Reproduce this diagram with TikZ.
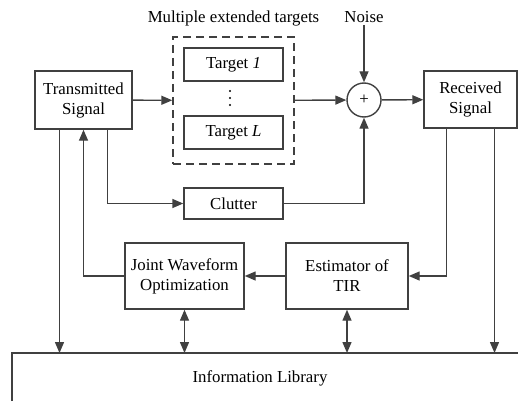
\documentclass[tikz,border=0pt]{standalone}
\usepackage{fontspec}
\setmainfont{Liberation Serif}
\usetikzlibrary{arrows.meta}
\definecolor{linegray}{HTML}{404040}
\tikzset{
  block/.style={draw=linegray, line width=1.4pt, align=center, inner sep=1pt},
  conn/.style={draw=linegray, line width=1.4pt, -{Triangle[length=11pt,width=9pt]}},
  dconn/.style={draw=linegray, line width=1.4pt, {Triangle[length=11pt,width=9pt]}-{Triangle[length=11pt,width=9pt]}},
  plain/.style={draw=linegray, line width=1.4pt},
}
\begin{document}
\begin{tikzpicture}[x=1pt,y=-1pt,font=\fontsize{16.8}{20}\selectfont]
  \useasboundingbox (0,0) rectangle (518,401);
  \node[block, minimum width=97, minimum height=58] (tx) at (83.5,100) {Transmitted\\Signal};
  \node[block, dashed, dash pattern=on 8pt off 5pt, minimum width=121, minimum height=127] (targets) at (233.5,100.5) {};
  \node[block, minimum width=99, minimum height=33] (t1) at (233.5,64.5) {Target \textit{1}};
  \node[block, minimum width=99, minimum height=33] (tL) at (233.5,132.5) {Target \textit{L}};
  \foreach \y in {91,98,105}
    \fill[black] (230,\y) circle (1.1);
  \node (multi) at (233.5,18) {Multiple extended targets};
  \node[inner sep=2pt] (noise) at (364,17) {Noise};
  \node[circle, draw=linegray, line width=1.4pt, minimum size=34, inner sep=0pt] (sum) at (364,100) {+};
  \node[block, minimum width=93, minimum height=57] (rx) at (470.5,99.5) {Received\\Signal};
  \node[block, minimum width=99, minimum height=31] (clutter) at (233.5,203.5) {Clutter};
  \node[block, minimum width=119, minimum height=66] (jwo) at (184.5,276) {Joint Waveform\\Optimization};
  \node[block, minimum width=122, minimum height=66] (est) at (347,276) {Estimator of\\TIR};
  \coordinate (libl) at (12,353);
  \coordinate (libr) at (518,353);
  \coordinate (libb) at (12,401);
  \node (lib) at (260,378) {Information Library};
  \begin{scope}
    \draw[plain] (libb) -- (libl) -- (libr);
    \draw[conn] (tx) to (targets);
    \draw[conn] (targets) to (sum);
    \draw[conn] (noise) to (sum);
    \draw[conn] (sum) to (rx);
    \draw[conn] ([xshift=24pt]tx.south) |- (clutter.west);
    \draw[conn] (clutter.east) -| (sum.south);
    \draw[conn] ([xshift=-24pt]rx.south) |- (est.east);
    \draw[conn] (est) to (jwo);
    \draw[conn] (jwo.west) -| (tx.south);
    \draw[conn] ([xshift=-24pt]tx.south) to ([xshift=-24pt]tx.south |- libl);
    \draw[conn] ([xshift=24pt]rx.south) to ([xshift=24pt]rx.south |- libl);
    \draw[dconn] (jwo.south) to (jwo.south |- libl);
    \draw[dconn] (est.south) to (est.south |- libl);
  \end{scope}
\end{tikzpicture}
\end{document}
